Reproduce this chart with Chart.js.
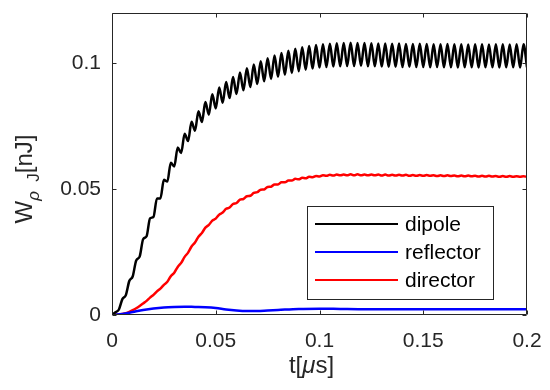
<!DOCTYPE html>
<html>
<head>
<meta charset="utf-8">
<script src="https://cdn.jsdelivr.net/npm/chart.js@4.4.1/dist/chart.umd.min.js"></script>
<style>html,body{margin:0;padding:0;background:#fff}canvas{display:block}</style>
</head>
<body>
<canvas id="c" width="550" height="390"></canvas>
<script>
// ---- data (time in microseconds, energy in nJ) ----
const t = [
  0, 0.00167, 0.00333, 0.005, 0.00667, 0.00833,
  0.01, 0.01167, 0.01333, 0.015, 0.01667, 0.01833,
  0.02, 0.02167, 0.02333, 0.025, 0.02667, 0.02833,
  0.03, 0.03167, 0.03333, 0.035, 0.03667, 0.03833,
  0.04, 0.04167, 0.04333, 0.045, 0.04667, 0.04833,
  0.05, 0.05167, 0.05333, 0.055, 0.05667, 0.05833,
  0.06, 0.06167, 0.06333, 0.065, 0.06667, 0.06833,
  0.07, 0.07167, 0.07333, 0.075, 0.07667, 0.07833,
  0.08, 0.08167, 0.08333, 0.085, 0.08667, 0.08833,
  0.09, 0.09167, 0.09333, 0.095, 0.09667, 0.09833,
  0.1, 0.10167, 0.10333, 0.105, 0.10667, 0.10833,
  0.11, 0.11167, 0.11333, 0.115, 0.11667, 0.11833,
  0.12, 0.12167, 0.12333, 0.125, 0.12667, 0.12833,
  0.13, 0.13167, 0.13333, 0.135, 0.13667, 0.13833,
  0.14, 0.14167, 0.14333, 0.145, 0.14667, 0.14833,
  0.15, 0.15167, 0.15333, 0.155, 0.15667, 0.15833,
  0.16, 0.16167, 0.16333, 0.165, 0.16667, 0.16833,
  0.17, 0.17167, 0.17333, 0.175, 0.17667, 0.17833,
  0.18, 0.18167, 0.18333, 0.185, 0.18667, 0.18833,
  0.19, 0.19167, 0.19333, 0.195, 0.19667, 0.19833,
  0.2
];
const dipole = [
  0, 0.0011, 0.0022, 0.0063, 0.0079, 0.0135, 0.0154, 0.0217, 0.0232, 0.0301,
  0.0313, 0.0384, 0.039, 0.0463, 0.0463, 0.0537, 0.053, 0.0605, 0.059, 0.0666,
  0.0644, 0.072, 0.0691, 0.0768, 0.0732, 0.081, 0.0767, 0.0846, 0.0796, 0.0877,
  0.0821, 0.0904, 0.0843, 0.0926, 0.0862, 0.0946, 0.0878, 0.0964, 0.0893, 0.098,
  0.0906, 0.0995, 0.0918, 0.1008, 0.0929, 0.102, 0.0938, 0.1031, 0.0947, 0.1041,
  0.0955, 0.105, 0.0962, 0.1058, 0.0969, 0.1064, 0.0975, 0.1069, 0.0979, 0.1073,
  0.0983, 0.1076, 0.0985, 0.1078, 0.0987, 0.108, 0.0988, 0.1081, 0.0989, 0.1082,
  0.0989, 0.1081, 0.099, 0.1081, 0.0988, 0.108, 0.0988, 0.1079, 0.0987, 0.1079,
  0.0986, 0.1078, 0.0986, 0.1079, 0.0985, 0.1077, 0.0986, 0.1077, 0.0985, 0.1078,
  0.0985, 0.1077, 0.0984, 0.1076, 0.0985, 0.1076, 0.0984, 0.1077, 0.0984, 0.1076,
  0.0983, 0.1076, 0.0984, 0.1075, 0.0984, 0.1076, 0.0983, 0.1076, 0.0984, 0.1075,
  0.0984, 0.1076, 0.0983, 0.1076, 0.0984, 0.1075, 0.0984, 0.1076, 0.0983, 0.1076,
  0.0984
];
const director = [
  0, 0.0001, 0.0002, 0.0004, 0.0007, 0.0012, 0.0019, 0.0027, 0.0036, 0.0046,
  0.0056, 0.0069, 0.008, 0.0094, 0.0105, 0.012, 0.0132, 0.0154, 0.0168, 0.0191,
  0.0207, 0.0231, 0.0248, 0.0272, 0.0288, 0.0311, 0.0326, 0.0347, 0.0358, 0.0375,
  0.0383, 0.0399, 0.0407, 0.0422, 0.0427, 0.0441, 0.0445, 0.0458, 0.0461, 0.0472,
  0.0474, 0.0485, 0.0488, 0.0498, 0.0499, 0.0509, 0.051, 0.0519, 0.0519, 0.0527,
  0.0527, 0.0534, 0.0534, 0.0541, 0.0539, 0.0545, 0.0543, 0.0549, 0.0547, 0.0552,
  0.055, 0.0555, 0.0553, 0.0557, 0.0554, 0.0558, 0.0555, 0.0558, 0.0555, 0.0559,
  0.0555, 0.0559, 0.0555, 0.0558, 0.0555, 0.0558, 0.0555, 0.0558, 0.0554, 0.0558,
  0.0554, 0.0557, 0.0554, 0.0557, 0.0554, 0.0557, 0.0553, 0.0556, 0.0553, 0.0556,
  0.0553, 0.0556, 0.0553, 0.0555, 0.0552, 0.0555, 0.0552, 0.0555, 0.0552, 0.0554,
  0.0551, 0.0554, 0.0551, 0.0554, 0.0551, 0.0553, 0.055, 0.0553, 0.055, 0.0553,
  0.055, 0.0552, 0.0549, 0.0552, 0.0549, 0.0552, 0.0549, 0.0551, 0.0549, 0.0551,
  0.0549
];
const tReflector = [0, 0.005, 0.01, 0.015, 0.02, 0.025, 0.03, 0.035, 0.04, 0.045, 0.05, 0.055, 0.06, 0.065, 0.07, 0.075, 0.08, 0.09, 0.1, 0.11, 0.12, 0.13, 0.14, 0.15, 0.16, 0.17, 0.18, 0.19, 0.2];
const reflector = [0, 0.0004, 0.0012, 0.002, 0.0026, 0.003, 0.0032, 0.0033, 0.0032, 0.0031, 0.0028, 0.0022, 0.0018, 0.0016, 0.0016, 0.0018, 0.002, 0.0024, 0.0025, 0.0024, 0.0023, 0.0023, 0.0023, 0.0023, 0.0023, 0.0023, 0.0023, 0.0023, 0.0023];

const seriesNames = ['dipole', 'reflector', 'director'];
const seriesColors = ['#000000', '#0000ff', '#ff0000'];
const xTicks = [0, 0.05, 0.1, 0.15, 0.2];
const xTickLabels = ['0', '0.05', '0.1', '0.15', '0.2'];
const yTicks = [0, 0.05, 0.1];
const yTickLabels = ['0', '0.05', '0.1'];
const xRange = [0, 0.2];
const yRange = [0, 0.12];

// ---- styling ----
const FONT = '"Liberation Sans", Arial, Helvetica, sans-serif';
const AX = '#262626';
const TICK_PX = 21;
const TITLE_PX = 24;

function zip(xs, ys) { return xs.map((x, i) => ({ x: x, y: ys[i] })); }

const decorPlugin = {
  id: 'decor',
  afterDatasetsDraw(chart) {
    const ctx = chart.ctx, a = chart.chartArea;
    const xs = chart.scales.x, ys = chart.scales.y;
    ctx.save();
    // axes box + inward ticks
    ctx.strokeStyle = AX;
    ctx.lineWidth = 1;
    ctx.beginPath();
    const L = Math.round(a.left) + 0.5, R = Math.round(a.right) - 0.5;
    const T = Math.round(a.top) + 0.5, B = Math.round(a.bottom) - 0.5;
    ctx.rect(L, T, R - L, B - T);
    const tl = 4;
    xTicks.forEach(v => {
      const px = Math.round(xs.getPixelForValue(v)) + 0.5;
      ctx.moveTo(px, B); ctx.lineTo(px, B - tl);
      ctx.moveTo(px, T); ctx.lineTo(px, T + tl);
    });
    yTicks.forEach(v => {
      const py = Math.round(ys.getPixelForValue(v)) + 0.5;
      ctx.moveTo(L, py); ctx.lineTo(L + tl, py);
      ctx.moveTo(R, py); ctx.lineTo(R - tl, py);
    });
    ctx.stroke();

    // legend box (inside axes, lower right)
    const bx = a.right - 220, by = a.top + 193, bw = 186, bh = 93;
    ctx.fillStyle = '#ffffff';
    ctx.fillRect(bx, by, bw, bh);
    ctx.strokeRect(Math.round(bx) + 0.5, Math.round(by) + 0.5, bw, bh);
    ctx.font = TICK_PX + 'px ' + FONT;
    ctx.textBaseline = 'middle';
    ctx.textAlign = 'left';
    chart.data.datasets.forEach((ds, i) => {
      const ly = by + 18 + i * 28;
      ctx.strokeStyle = ds.borderColor;
      ctx.lineWidth = 2.2;
      ctx.beginPath();
      ctx.moveTo(bx + 8, ly); ctx.lineTo(bx + 91, ly);
      ctx.stroke();
      ctx.fillStyle = '#000000';
      ctx.fillText(ds.label, bx + 98, ly + 1);
    });

    // x axis title: t[μs]  (μ italic)
    ctx.fillStyle = AX;
    ctx.textBaseline = 'alphabetic';
    const fN = TITLE_PX + 'px ' + FONT, fI = 'italic ' + TITLE_PX + 'px ' + FONT;
    const xParts = [['t[', fN], ['μ', fI], ['s]', fN]];
    let w = 0;
    xParts.forEach(p => { ctx.font = p[1]; w += ctx.measureText(p[0]).width; });
    let cx = (a.left + a.right) / 2 - 8 - w / 2;
    xParts.forEach(p => { ctx.font = p[1]; ctx.fillText(p[0], cx, 373); cx += ctx.measureText(p[0]).width; });

    // y axis title: W_{ρ J}[nJ]
    ctx.save();
    ctx.translate(32, (a.top + a.bottom) / 2);
    ctx.rotate(-Math.PI / 2);
    const sN = '17px ' + FONT, sI = 'italic 17px ' + FONT;
    const yParts = [['W', fN, 0], ['ρ', sI, 7], ['  J', sN, 7], ['[nJ]', fN, 0]];
    w = 0;
    yParts.forEach(p => { ctx.font = p[1]; w += ctx.measureText(p[0]).width; });
    cx = -w / 2 - 15;
    yParts.forEach(p => { ctx.font = p[1]; ctx.fillText(p[0], cx, p[2]); cx += ctx.measureText(p[0]).width; });
    ctx.restore();

    ctx.restore();
  }
};

new Chart(document.getElementById('c'), {
  type: 'line',
  data: {
    datasets: [
      { label: seriesNames[0], data: zip(t, dipole), borderColor: seriesColors[0] },
      { label: seriesNames[1], data: zip(tReflector, reflector), borderColor: seriesColors[1] },
      { label: seriesNames[2], data: zip(t, director), borderColor: seriesColors[2] }
    ]
  },
  options: {
    responsive: false,
    animation: false,
    devicePixelRatio: 1,
    layout: { padding: { left: 0, right: 23, top: 13, bottom: 0 } },
    elements: {
      point: { radius: 0 },
      line: { borderWidth: 2.5, cubicInterpolationMode: 'monotone', fill: false }
    },
    plugins: { legend: { display: false }, tooltip: { enabled: false } },
    scales: {
      x: {
        type: 'linear', min: xRange[0], max: xRange[1],
        grid: { display: false, drawTicks: false },
        border: { display: false },
        afterBuildTicks: s => { s.ticks = xTicks.map(v => ({ value: v })); },
        afterFit: s => { s.height = 75; s.paddingLeft = 0; s.paddingRight = 0; },
        ticks: {
          color: AX, padding: 14, maxRotation: 0, autoSkip: false,
          font: { family: FONT, size: TICK_PX },
          callback: (v) => xTickLabels[xTicks.indexOf(v)]
        }
      },
      y: {
        type: 'linear', min: yRange[0], max: yRange[1],
        grid: { display: false, drawTicks: false },
        border: { display: false },
        afterBuildTicks: s => { s.ticks = yTicks.map(v => ({ value: v })); },
        afterFit: s => { s.width = 112; s.paddingTop = 0; s.paddingBottom = 0; },
        ticks: {
          color: AX, padding: 11, autoSkip: false,
          font: { family: FONT, size: TICK_PX },
          callback: (v) => yTickLabels[yTicks.indexOf(v)]
        }
      }
    }
  },
  plugins: [decorPlugin]
});
</script>
</body>
</html>
